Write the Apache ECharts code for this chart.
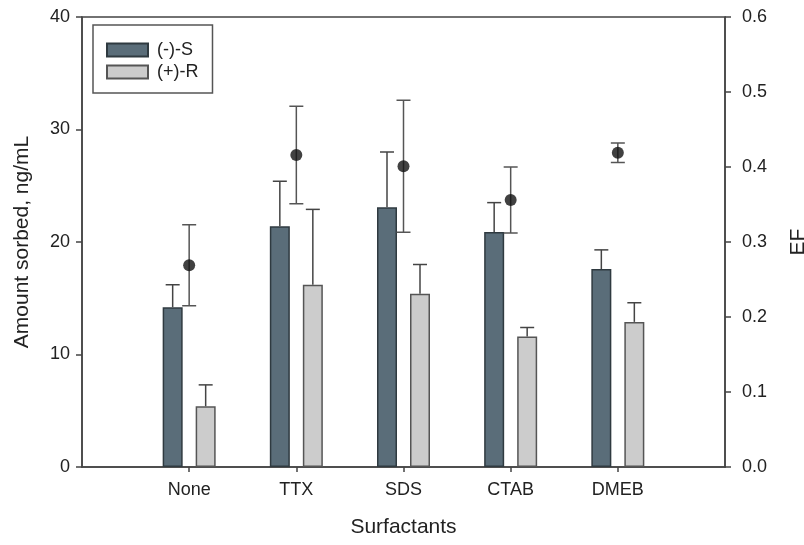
<!DOCTYPE html>
<html>
<head>
<meta charset="utf-8">
<script src="https://cdn.jsdelivr.net/npm/echarts@6/dist/echarts.min.js"></script>
<style>
html, body { margin: 0; padding: 0; background: #fff; }
#main { width: 804px; height: 545px; }
</style>
</head>
<body>
<div id="main"></div>
<script>
// 数据
var cats = ['None', 'TTX', 'SDS', 'CTAB', 'DMEB'];
var sVals = [14.2, 21.4, 23.1, 20.9, 17.6];
var sErr = [2.0, 4.0, 4.9, 2.6, 1.7];
var rVals = [5.4, 16.2, 15.4, 11.6, 12.9];
var rErr = [1.9, 6.7, 2.6, 0.8, 1.7];
var efVals = [0.269, 0.416, 0.401, 0.356, 0.419];
var efErr = [0.054, 0.065, 0.088, 0.044, 0.013];
var leftTicks = [0, 40, 10];
var rightTicks = [0, 0.6, 0.1];

// 两端留空的类目
var axisCats = [''].concat(cats, ['']);
function pad(arr) {
	return ['-'].concat(arr, ['-']);
}
var inner = function(i) {
	return i > 0 && i < axisCats.length - 1;
};

var font = 'Liberation Sans, Arial, sans-serif';
var axisColor = '#444';
var barW = 20,
	barGap = 13;
var shift = (barW + barGap) / 2;

// 误差线
function errData(vals, errs, both) {
	var out = [];
	for (var i = 0; i < vals.length; i++) {
		out.push([i + 1, vals[i], errs[i], both ? 1 : 0]);
	}
	return out;
}

function errRender(dx, color) {
	return function(params, api) {
		var x = api.value(0),
			v = api.value(1),
			e = api.value(2),
			both = api.value(3);
		var top = api.coord([x, v + e]);
		var low = api.coord([x, both ? v - e : v]);
		var cx = top[0] + dx;
		var half = 7;
		var style = { stroke: color, lineWidth: 1.5 };
		var kids = [{
			type: 'line',
			shape: { x1: cx, y1: top[1], x2: cx, y2: low[1] },
			style: style
		}, {
			type: 'line',
			shape: { x1: cx - half, y1: top[1], x2: cx + half, y2: top[1] },
			style: style
		}];
		if (both) {
			kids.push({
				type: 'line',
				shape: { x1: cx - half, y1: low[1], x2: cx + half, y2: low[1] },
				style: style
			});
		}
		return { type: 'group', children: kids };
	};
}

var myChart = echarts.init(document.getElementById('main'));
var option = {
	backgroundColor: '#fff',
	animation: false,
	grid: {
		left: 82,
		right: 79,
		top: 17,
		bottom: 78,
		outerBoundsMode: 'none',
		containLabel: false,
		show: true,
		borderColor: axisColor,
		borderWidth: 1.5
	},
	legend: {
		left: 93,
		top: 25,
		orient: 'vertical',
		padding: [16, 14, 12, 13],
		itemWidth: 41,
		itemHeight: 13,
		itemGap: 4,
		borderColor: '#555',
		borderWidth: 1.5,
		icon: 'rect',
		data: ['(-)-S', '(+)-R'],
		textStyle: { fontFamily: font, fontSize: 18, color: '#222', padding: [0, 0, 0, 4] }
	},
	xAxis: {
		type: 'category',
		data: axisCats,
		boundaryGap: false,
		name: 'Surfactants',
		nameLocation: 'middle',
		nameGap: 50,
		nameTextStyle: { fontFamily: font, fontSize: 21, color: '#222' },
		axisLine: { lineStyle: { color: axisColor, width: 1.5 } },
		axisTick: { interval: inner, length: 5, lineStyle: { color: axisColor, width: 1.5 } },
		axisLabel: { interval: inner, margin: 14, fontFamily: font, fontSize: 18, color: '#222' },
		splitLine: { show: false }
	},
	yAxis: [{
		type: 'value',
		min: leftTicks[0],
		max: leftTicks[1],
		interval: leftTicks[2],
		name: 'Amount sorbed, ng/mL',
		nameLocation: 'middle',
		nameGap: 49,
		nameTextStyle: { fontFamily: font, fontSize: 21, color: '#222' },
		axisLine: { show: true, lineStyle: { color: axisColor, width: 1.5 } },
		axisTick: { show: true, inside: false, length: 6, lineStyle: { color: axisColor, width: 1.5 } },
		axisLabel: { margin: 12, fontFamily: font, fontSize: 18, color: '#222' },
		splitLine: { show: false }
	}, {
		type: 'value',
		position: 'right',
		min: rightTicks[0],
		max: rightTicks[1],
		interval: rightTicks[2],
		name: 'EF',
		nameLocation: 'middle',
		nameGap: 63,
		nameRotate: 90,
		nameTextStyle: { fontFamily: font, fontSize: 21, color: '#222' },
		axisLine: { show: true, lineStyle: { color: axisColor, width: 1.5 } },
		axisTick: { show: true, inside: false, length: 6, lineStyle: { color: axisColor, width: 1.5 } },
		axisLabel: {
			margin: 17,
			fontFamily: font,
			fontSize: 18,
			color: '#222',
			formatter: function(v) {
				return v.toFixed(1);
			}
		},
		splitLine: { show: false }
	}],
	series: [{
		name: '(-)-S',
		type: 'bar',
		barWidth: barW,
		barGap: (barGap / barW * 100) + '%',
		data: pad(sVals),
		itemStyle: { color: '#5a6d79', borderColor: '#2f3a40', borderWidth: 1.5 }
	}, {
		name: '(+)-R',
		type: 'bar',
		barWidth: barW,
		data: pad(rVals),
		itemStyle: { color: '#cccccc', borderColor: '#555', borderWidth: 1.5 }
	}, {
		name: 'errS',
		type: 'custom',
		renderItem: errRender(-shift, '#444'),
		data: errData(sVals, sErr, false),
		z: 3
	}, {
		name: 'errR',
		type: 'custom',
		renderItem: errRender(shift, '#444'),
		data: errData(rVals, rErr, false),
		z: 3
	}, {
		name: 'errEF',
		type: 'custom',
		yAxisIndex: 1,
		renderItem: errRender(0, '#555'),
		data: errData(efVals, efErr, true),
		z: 4
	}, {
		name: 'EF',
		type: 'scatter',
		yAxisIndex: 1,
		symbolSize: 12,
		data: pad(efVals),
		itemStyle: { color: '#111' },
		z: 5
	}]
};
myChart.setOption(option);
</script>
</body>
</html>
